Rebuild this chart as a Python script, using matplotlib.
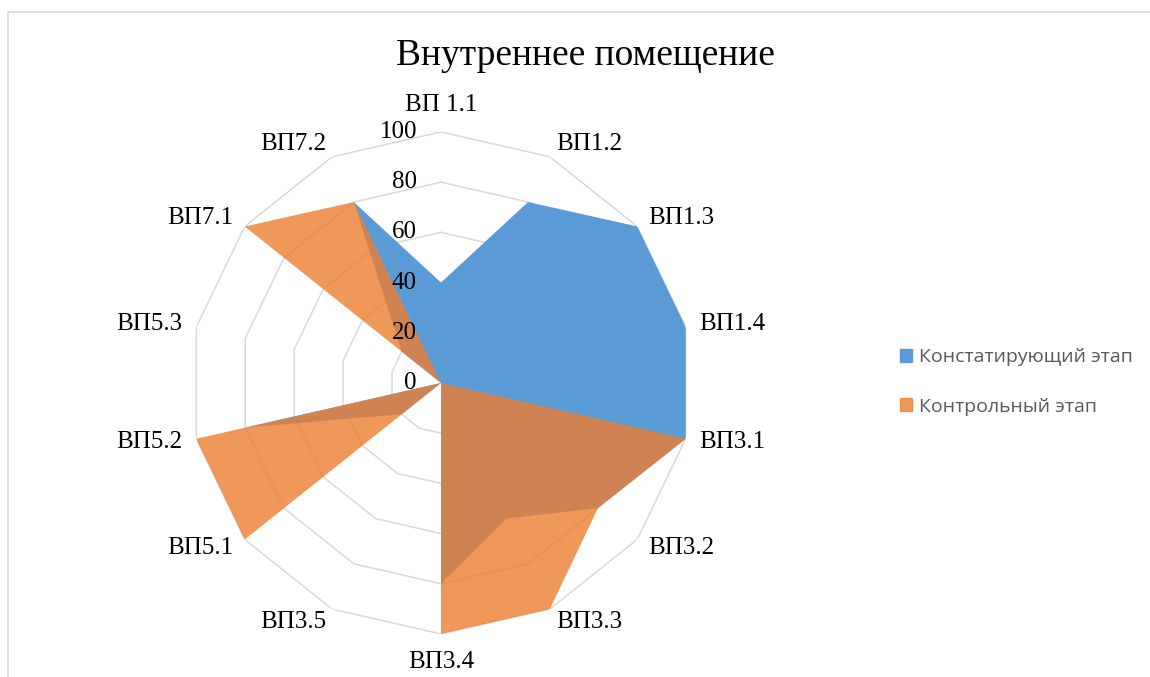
"""
Radar chart: 'Внутреннее помещение' - ascertaining vs control stage scores.
"""

import numpy as np
import matplotlib.pyplot as plt
from matplotlib.patches import Patch

# --------------------------------------------------------------------------- #
# Data                                                                        #
# --------------------------------------------------------------------------- #
TITLE = "Внутреннее помещение"
CATEGORIES = ["ВП 1.1", "ВП1.2", "ВП1.3", "ВП1.4", "ВП3.1", "ВП3.2", "ВП3.3",
              "ВП3.4", "ВП3.5", "ВП5.1", "ВП5.2", "ВП5.3", "ВП7.1", "ВП7.2"]
STAGE_ASCERT = [40, 80, 100, 100, 100, 80, 60, 80, 0, 20, 80, 0, 20, 80]
STAGE_CONTROL = [0, 0, 0, 0, 100, 80, 100, 100, 0, 100, 100, 0, 100, 80]
SERIES_NAMES = ["Констатирующий этап", "Контрольный этап"]
R_TICKS = [0, 20, 40, 60, 80, 100]

BLUE = "#5B9BD5"
ORANGE = "#ED7D31"
GRID = "#D9D9D9"
SERIF = "Liberation Serif"
SANS = "Open Sans"


def closed(vals):
    return list(vals) + [vals[0]]


def main():
    fig = plt.figure(figsize=(11.5, 6.77), dpi=100)

    # light chart-area frame (top and left edges visible)
    fig.add_artist(plt.Line2D([8 / 1150, 1.0], [1 - 12 / 677] * 2,
                              transform=fig.transFigure, color=GRID, lw=1.2))
    fig.add_artist(plt.Line2D([8 / 1150] * 2, [0.0, 1 - 12 / 677],
                              transform=fig.transFigure, color=GRID, lw=1.2))

    ax = fig.add_axes([0.1652, 0.0636, 0.4365, 0.7415], projection="polar")
    ax.set_theta_zero_location("N")
    ax.set_theta_direction(-1)
    ax.set_ylim(0, 100)
    ax.grid(False)
    ax.spines["polar"].set_visible(False)
    ax.set_xticks([])
    ax.set_yticks([])
    ax.patch.set_alpha(0)

    n = len(CATEGORIES)
    theta = np.linspace(0, 2 * np.pi, n, endpoint=False)
    th_c = closed(theta)

    # polygon grid
    for lvl in R_TICKS[1:]:
        ax.plot(th_c, [lvl] * (n + 1), color=GRID, lw=1.1, zorder=0)

    ax.fill(th_c, closed(STAGE_ASCERT), color=BLUE, lw=0, zorder=1)
    ax.fill(th_c, closed(STAGE_CONTROL), color=ORANGE, alpha=0.8, lw=0,
            zorder=2)

    # radial value labels
    for lvl in R_TICKS:
        ax.annotate(str(lvl), (0, lvl), xytext=(-24, 0),
                    textcoords="offset pixels", ha="right", va="center",
                    fontsize=18, family=SERIF, color="black", zorder=5)

    # category labels
    for t, lab in zip(theta, CATEGORIES):
        s, c = np.sin(t), np.cos(t)
        if abs(s) < 0.1:
            dx, dy, ha = 0, (27 if c > 0 else 28) * c, "center"
        else:
            dx, dy = 14 * s, 14 * c
            ha = "left" if s > 0 else "right"
        ax.annotate(lab, (t, 100), xytext=(dx, dy), textcoords="offset pixels",
                    ha=ha, va="center", fontsize=18, family=SERIF,
                    annotation_clip=False)

    fig.text(585 / 1150, 1 - 56 / 677, TITLE, ha="center", va="center",
             fontsize=27, family=SERIF)

    handles = [Patch(color=BLUE), Patch(color=ORANGE, alpha=0.8)]
    fig.legend(handles, SERIES_NAMES, loc="center left",
               bbox_to_anchor=(882 / 1150, 1 - 382 / 677), frameon=False,
               prop={"family": SANS, "size": 14}, labelcolor="#595959",
               handlelength=0.65, handleheight=0.65, handletextpad=0.35,
               labelspacing=1.6)

    fig.savefig("out.png", dpi=100)


if __name__ == "__main__":
    main()
